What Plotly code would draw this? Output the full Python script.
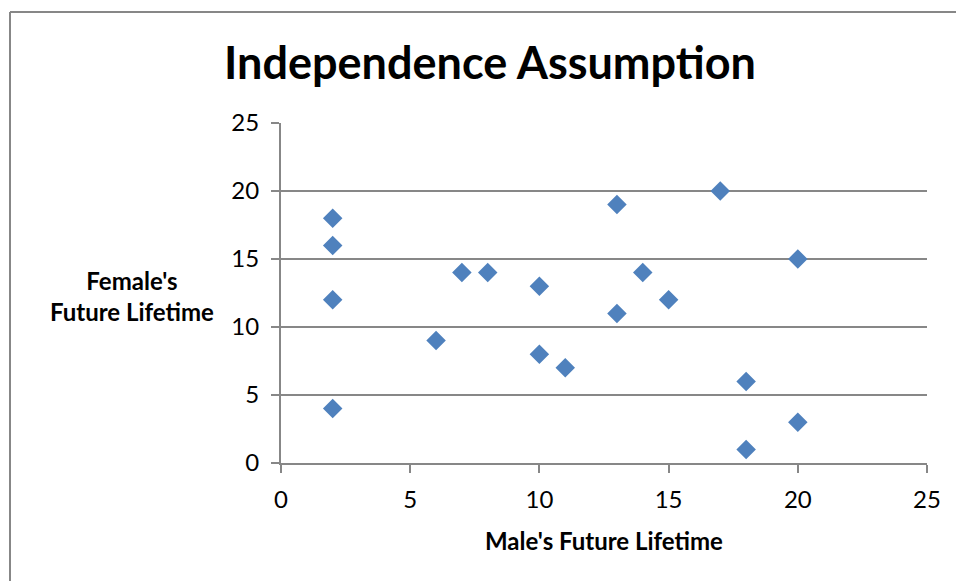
import plotly.graph_objects as go

# Paired future lifetimes (years)
male_lifetime = [2, 2, 2, 2, 6, 7, 8, 10, 10, 11, 13, 13, 14, 15, 17, 18, 18, 20, 20]
female_lifetime = [18, 16, 12, 4, 9, 14, 14, 13, 8, 7, 19, 11, 14, 12, 20, 6, 1, 15, 3]

tick_vals = [0, 5, 10, 15, 20, 25]

FONT = "Lato"
GRID = "#878787"

fig = go.Figure()
fig.add_trace(go.Scatter(
    x=male_lifetime,
    y=female_lifetime,
    mode="markers",
    marker=dict(symbol="diamond", size=15, color="#4F81BD",
                line=dict(width=0)),
    showlegend=False,
    hoverinfo="x+y",
))

W, H = 956, 581
L, R, T, B = 281, 29, 123, 118
pw, ph = W - L - R, H - T - B

fig.update_layout(
    width=W, height=H,
    margin=dict(l=L, r=R, t=T, b=B),
    paper_bgcolor="white",
    plot_bgcolor="white",
    font=dict(family=FONT, color="#000000", size=24),
    title=dict(text="<b>Independence Assumption</b>",
               font=dict(family=FONT, size=45, color="#000000"),
               x=(490) / W, xanchor="center",
               y=1 - 63 / H, yanchor="middle"),
    xaxis=dict(range=[0, 25], tickvals=tick_vals, showgrid=False,
               zeroline=False, showline=True, linecolor=GRID, linewidth=2,
               ticks="outside", ticklen=8, tickcolor=GRID, tickwidth=2,
               tickfont=dict(size=24, family=FONT), ticklabelstandoff=6,
               fixedrange=True),
    yaxis=dict(range=[0, 25], tickvals=tick_vals, showgrid=True,
               gridcolor=GRID, gridwidth=2, zeroline=False,
               showline=True, linecolor=GRID, linewidth=2,
               ticks="outside", ticklen=8, tickcolor=GRID, tickwidth=2,
               tickfont=dict(size=24, family=FONT), ticklabelstandoff=7,
               fixedrange=True),
    annotations=[
        dict(text="<b>Male's Future Lifetime</b>", xref="paper", yref="paper",
             x=(604 - L) / pw, y=-(540 - (T + ph)) / ph, xanchor="center",
             yanchor="middle", showarrow=False,
             font=dict(size=24, family=FONT)),
        dict(text="<b>Female's<br>Future Lifetime</b>", xref="paper",
             yref="paper", x=(132 - L) / pw, y=(T + ph - 296) / ph,
             xanchor="center", yanchor="middle", showarrow=False,
             align="center", font=dict(size=24, family=FONT)),
    ],
    shapes=[
        # chart frame (top and left edges within view)
        dict(type="line", xref="paper", yref="paper",
             x0=(10 - L) / pw, x1=(W + 5 - L) / pw,
             y0=(T + ph - 12) / ph, y1=(T + ph - 12) / ph,
             line=dict(color=GRID, width=2)),
        dict(type="line", xref="paper", yref="paper",
             x0=(10 - L) / pw, x1=(10 - L) / pw,
             y0=(T + ph - 12) / ph, y1=(T + ph - H - 5) / ph,
             line=dict(color=GRID, width=2)),
    ],
)

fig.write_html("out.html")
